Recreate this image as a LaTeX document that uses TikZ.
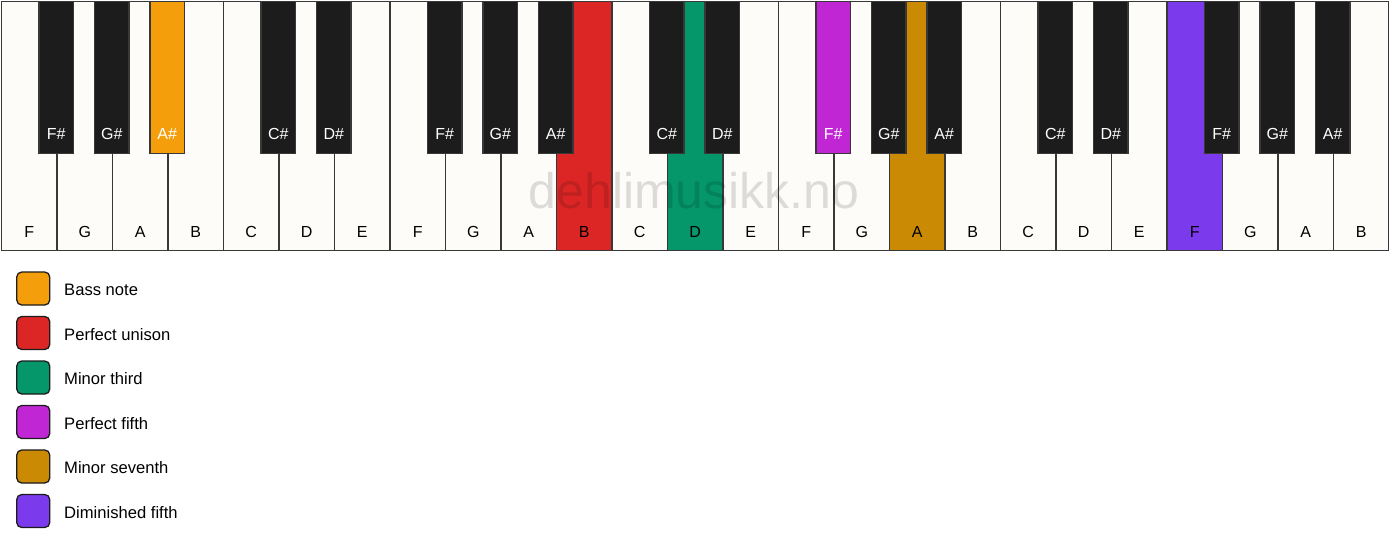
\documentclass[tikz,border=0pt]{standalone}
\usepackage{fontspec}
\setmainfont{Liberation Sans}
\definecolor{ivory}{HTML}{FDFCF9}
\definecolor{keyblack}{HTML}{1C1C1C}
\definecolor{edge}{HTML}{383838}
\definecolor{cbass}{HTML}{F59E0B}
\definecolor{cunison}{HTML}{DC2626}
\definecolor{cthird}{HTML}{059669}
\definecolor{cfifth}{HTML}{C026D3}
\definecolor{cseventh}{HTML}{CA8A04}
\definecolor{cdim}{HTML}{7C3AED}
\tikzset{
  whitekey/.style={draw=edge, line width=1.5pt, rectangle, anchor=north west, inner sep=0pt,
    minimum width=55.5pt, minimum height=248.75pt},
  blackkey/.style={draw=edge, line width=1.2pt, rectangle, anchor=north, inner sep=0pt,
    minimum width=34.5pt, minimum height=152.5pt},
  wlabel/.style={anchor=base, inner sep=0pt, font=\fontsize{16}{19}\selectfont, text=black},
  blabel/.style={anchor=base, inner sep=0pt, font=\fontsize{16}{19}\selectfont, text=white},
  legbox/.style={draw=keyblack, line width=1.3pt, rounded corners=5pt, minimum width=33pt,
    minimum height=33pt, inner sep=0pt},
  legtext/.style={anchor=base west, inner sep=0pt, font=\fontsize{16.6}{20}\selectfont, text=black},
  watermark/.style={anchor=base, inner sep=0pt, font=\fontsize{50}{58}\selectfont, text=black, text opacity=0.13}
}
\begin{document}
\begin{tikzpicture}[x=1pt,y=-1pt]
\useasboundingbox[fill=white] (0,0) rectangle (1389,550);
% white keys
\foreach \n/\c [count=\i from 0] in {F/ivory,G/ivory,A/ivory,B/ivory,C/ivory,D/ivory,E/ivory,
  F/ivory,G/ivory,A/ivory,B/cunison,C/ivory,D/cthird,E/ivory,
  F/ivory,G/ivory,A/cseventh,B/ivory,C/ivory,D/ivory,E/ivory,
  F/cdim,G/ivory,A/ivory,B/ivory}{
  \node[whitekey, fill=\c] (w\i) at ({0.75+\i*55.5},0.75) {};
  \node[wlabel] (wl\i) at ([yshift=13.5pt]w\i.south) {\n};
}
% watermark
\node[watermark] (wm) at (694,208) {dehlimusikk.no};
% black keys
\foreach \b/\n/\c in {1/F/keyblack,2/G/keyblack,3/A/cbass,5/C/keyblack,6/D/keyblack,
  8/F/keyblack,9/G/keyblack,10/A/keyblack,12/C/keyblack,13/D/keyblack,
  15/F/cfifth,16/G/keyblack,17/A/keyblack,19/C/keyblack,20/D/keyblack,
  22/F/keyblack,23/G/keyblack,24/A/keyblack}{
  \node[blackkey, fill=\c] (b\b) at ({0.75+\b*55.5},0.5) {};
  \node[blabel] (bl\b) at ([yshift=14.5pt]b\b.south) {\n\#};
}
% legend
\foreach \c/\t [count=\k from 0] in {cbass/Bass note,cunison/Perfect unison,cthird/Minor third,
  cfifth/Perfect fifth,cseventh/Minor seventh,cdim/Diminished fifth}{
  \node[legbox, fill=\c] (lg\k) at (33.25,{288.5+\k*44.5}) {};
  \node[legtext] (lt\k) at (64,{288.5+\k*44.5+7.2}) {\t};
}
\end{tikzpicture}
\end{document}
